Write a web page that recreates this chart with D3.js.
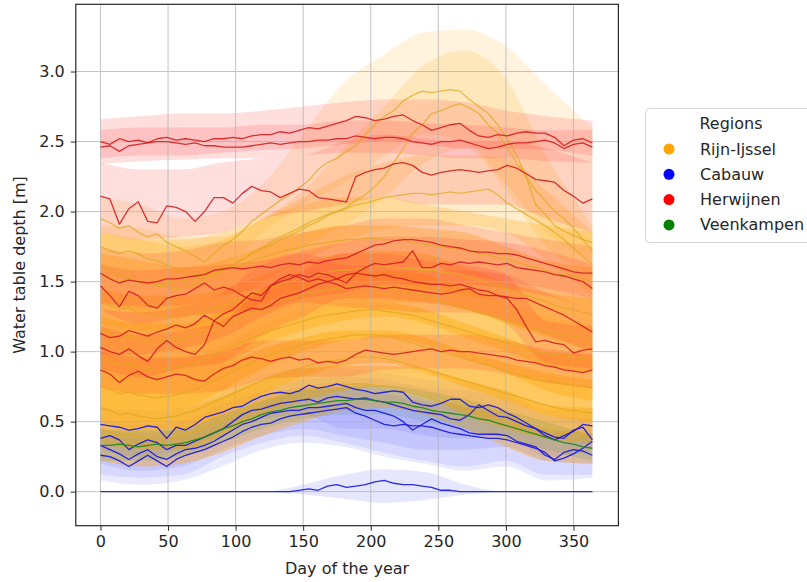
<!DOCTYPE html>
<html>
<head>
<meta charset="utf-8">
<script src="https://cdn.jsdelivr.net/npm/d3@7"></script>
<style>
  body { margin: 0; background: #fff; }
  text { font-family: "DejaVu Sans", sans-serif; fill: #262626; }
</style>
</head>
<body>
<svg id="chart"></svg>
<script>
const width = 807;
const height = 582;

// day grid of the lines (weekly) and of the bands (monthly)
const days = [0, 7, 14, 21, 28, 35, 42, 49, 56, 63, 70, 77, 84, 91, 98, 105, 112, 119, 126, 133, 140, 147, 154, 161, 168, 175, 182, 189, 196, 203, 210, 217, 224, 231, 238, 245, 252, 259, 266, 273, 280, 287, 294, 301, 308, 315, 322, 329, 336, 343, 350, 357, 364];
const bandDays = [0, 30, 60, 90, 120, 150, 180, 210, 240, 270, 300, 330, 364];

const xTicks = [0, 50, 100, 150, 200, 250, 300, 350];
const yTicks = [0, 0.5, 1, 1.5, 2, 2.5, 3];

const regions = ["Rijn-Ijssel", "Cabauw", "Herwijnen", "Veenkampen"];
const regionColors = ["orange", "blue", "red", "green"];

// Rijn-Ijssel
const rijn1 = [1.95, 1.92, 1.88, 1.90, 1.85, 1.82, 1.84, 1.78, 1.75, 1.72, 1.68, 1.64, 1.70, 1.76, 1.80, 1.86, 1.93, 1.98, 2.03, 2.08, 2.12, 2.17, 2.22, 2.30, 2.35, 2.38, 2.43, 2.47, 2.55, 2.62, 2.68, 2.72, 2.79, 2.83, 2.86, 2.85, 2.86, 2.87, 2.86, 2.80, 2.75, 2.70, 2.62, 2.52, 2.40, 2.25, 2.05, 1.98, 1.90, 1.86, 1.83, 1.80, 1.78];
const rijn1Lo = [1.75, 1.68, 1.55, 1.6, 1.85, 2.05, 2.2, 2.4, 2.55, 2.5, 2.2, 1.85, 1.65];
const rijn1Hi = [2.1, 2.05, 1.95, 2.0, 2.2, 2.55, 2.92, 3.12, 3.28, 3.3, 3.18, 2.9, 2.6];

const rijn2 = [1.75, 1.72, 1.70, 1.72, 1.70, 1.66, 1.65, 1.62, 1.60, 1.57, 1.55, 1.56, 1.58, 1.60, 1.62, 1.66, 1.70, 1.73, 1.76, 1.80, 1.83, 1.86, 1.90, 1.93, 1.97, 2.00, 2.03, 2.08, 2.12, 2.18, 2.25, 2.35, 2.45, 2.56, 2.62, 2.70, 2.72, 2.75, 2.77, 2.74, 2.70, 2.62, 2.56, 2.45, 2.35, 2.25, 2.15, 2.08, 2.00, 1.95, 1.88, 1.80, 1.72];
const rijn2Lo = [1.55, 1.5, 1.45, 1.45, 1.6, 1.75, 1.9, 2.1, 2.35, 2.45, 2.15, 1.75, 1.55];
const rijn2Hi = [1.9, 1.88, 1.82, 1.82, 1.95, 2.15, 2.45, 2.75, 3.05, 3.15, 2.95, 2.4, 1.9];

const rijn3 = [1.62, 1.58, 1.55, 1.52, 1.50, 1.49, 1.47, 1.46, 1.45, 1.46, 1.48, 1.52, 1.55, 1.58, 1.62, 1.66, 1.70, 1.74, 1.78, 1.82, 1.85, 1.88, 1.92, 1.95, 1.98, 2.00, 2.02, 2.05, 2.06, 2.08, 2.10, 2.11, 2.12, 2.13, 2.13, 2.12, 2.13, 2.14, 2.13, 2.14, 2.15, 2.16, 2.12, 2.06, 2.02, 1.98, 1.94, 1.90, 1.85, 1.80, 1.74, 1.68, 1.62];
const rijn3Lo = [1.35, 1.28, 1.25, 1.3, 1.5, 1.65, 1.78, 1.88, 1.9, 1.9, 1.85, 1.65, 1.4];
const rijn3Hi = [1.85, 1.8, 1.75, 1.8, 1.95, 2.1, 2.25, 2.35, 2.4, 2.4, 2.38, 2.15, 1.85];

const rijn4 = [1.35, 1.33, 1.30, 1.31, 1.28, 1.27, 1.26, 1.25, 1.24, 1.25, 1.27, 1.29, 1.31, 1.33, 1.35, 1.38, 1.41, 1.43, 1.46, 1.48, 1.50, 1.52, 1.54, 1.55, 1.57, 1.58, 1.58, 1.59, 1.60, 1.60, 1.61, 1.60, 1.60, 1.59, 1.58, 1.58, 1.57, 1.56, 1.55, 1.53, 1.51, 1.49, 1.47, 1.45, 1.43, 1.40, 1.38, 1.36, 1.33, 1.31, 1.30, 1.28, 1.27];
const rijn4Lo = [1.0, 0.95, 0.95, 1.05, 1.2, 1.3, 1.35, 1.35, 1.35, 1.3, 1.2, 1.1, 1.0];
const rijn4Hi = [1.7, 1.65, 1.6, 1.65, 1.75, 1.85, 1.9, 1.9, 1.88, 1.85, 1.75, 1.65, 1.6];

const rijn5 = [1.15, 1.13, 1.10, 1.11, 1.09, 1.08, 1.07, 1.08, 1.09, 1.10, 1.12, 1.14, 1.16, 1.19, 1.22, 1.25, 1.28, 1.31, 1.34, 1.36, 1.38, 1.40, 1.42, 1.43, 1.44, 1.45, 1.46, 1.46, 1.47, 1.47, 1.46, 1.45, 1.44, 1.42, 1.40, 1.38, 1.36, 1.34, 1.32, 1.30, 1.28, 1.26, 1.24, 1.22, 1.20, 1.18, 1.16, 1.14, 1.13, 1.12, 1.11, 1.10, 1.09];
const rijn5Lo = [0.85, 0.8, 0.8, 0.9, 1.05, 1.15, 1.22, 1.25, 1.2, 1.1, 1.0, 0.9, 0.85];
const rijn5Hi = [1.45, 1.4, 1.4, 1.45, 1.55, 1.65, 1.7, 1.72, 1.7, 1.6, 1.5, 1.42, 1.38];

const rijn6 = [0.95, 0.93, 0.90, 0.91, 0.89, 0.88, 0.87, 0.88, 0.89, 0.90, 0.92, 0.95, 0.98, 1.01, 1.04, 1.07, 1.10, 1.12, 1.15, 1.17, 1.19, 1.21, 1.23, 1.25, 1.26, 1.27, 1.28, 1.29, 1.30, 1.30, 1.29, 1.28, 1.27, 1.26, 1.24, 1.22, 1.20, 1.18, 1.16, 1.14, 1.12, 1.10, 1.08, 1.06, 1.04, 1.02, 1.00, 0.99, 0.98, 0.97, 0.96, 0.95, 0.94];
const rijn6Lo = [0.65, 0.6, 0.6, 0.72, 0.88, 1.0, 1.08, 1.1, 1.05, 0.95, 0.85, 0.72, 0.65];
const rijn6Hi = [1.25, 1.2, 1.2, 1.3, 1.45, 1.5, 1.55, 1.58, 1.55, 1.45, 1.35, 1.25, 1.2];

const rijn7 = [0.75, 0.73, 0.70, 0.71, 0.69, 0.68, 0.67, 0.68, 0.69, 0.71, 0.73, 0.76, 0.79, 0.82, 0.86, 0.89, 0.92, 0.95, 0.98, 1.00, 1.02, 1.04, 1.06, 1.08, 1.09, 1.10, 1.11, 1.12, 1.12, 1.12, 1.11, 1.10, 1.08, 1.06, 1.04, 1.02, 1.00, 0.98, 0.96, 0.94, 0.92, 0.90, 0.88, 0.86, 0.84, 0.82, 0.80, 0.79, 0.78, 0.77, 0.76, 0.75, 0.74];
const rijn7Lo = [0.5, 0.45, 0.45, 0.55, 0.7, 0.82, 0.9, 0.92, 0.85, 0.75, 0.65, 0.55, 0.5];
const rijn7Hi = [1.0, 0.95, 0.95, 1.05, 1.2, 1.3, 1.35, 1.35, 1.3, 1.2, 1.1, 1.0, 0.98];

const rijn8 = [0.60, 0.58, 0.55, 0.56, 0.54, 0.53, 0.52, 0.53, 0.54, 0.56, 0.58, 0.61, 0.64, 0.67, 0.70, 0.73, 0.76, 0.79, 0.82, 0.84, 0.86, 0.88, 0.90, 0.92, 0.93, 0.94, 0.95, 0.96, 0.96, 0.96, 0.95, 0.94, 0.92, 0.90, 0.88, 0.86, 0.84, 0.82, 0.80, 0.78, 0.76, 0.74, 0.72, 0.70, 0.68, 0.66, 0.64, 0.62, 0.60, 0.59, 0.58, 0.57, 0.56];
const rijn8Lo = [0.35, 0.3, 0.3, 0.4, 0.55, 0.65, 0.72, 0.75, 0.68, 0.55, 0.45, 0.38, 0.35];
const rijn8Hi = [0.85, 0.8, 0.8, 0.9, 1.02, 1.1, 1.15, 1.15, 1.1, 1.0, 0.92, 0.85, 0.8];

const rijn9 = [0.45, 0.43, 0.40, 0.41, 0.39, 0.38, 0.37, 0.38, 0.39, 0.41, 0.43, 0.46, 0.49, 0.52, 0.55, 0.58, 0.61, 0.64, 0.66, 0.68, 0.70, 0.72, 0.73, 0.74, 0.75, 0.76, 0.76, 0.77, 0.77, 0.76, 0.75, 0.74, 0.72, 0.70, 0.68, 0.66, 0.64, 0.62, 0.60, 0.58, 0.56, 0.54, 0.52, 0.50, 0.48, 0.46, 0.45, 0.44, 0.43, 0.42, 0.42, 0.41, 0.41];
const rijn9Lo = [0.22, 0.18, 0.2, 0.28, 0.4, 0.5, 0.58, 0.6, 0.55, 0.45, 0.32, 0.22, 0.2];
const rijn9Hi = [0.65, 0.6, 0.6, 0.68, 0.8, 0.88, 0.9, 0.9, 0.88, 0.8, 0.72, 0.62, 0.6];

const rijn10 = [1.55, 1.53, 1.50, 1.52, 1.50, 1.49, 1.48, 1.49, 1.50, 1.51, 1.52, 1.54, 1.56, 1.58, 1.60, 1.62, 1.65, 1.67, 1.69, 1.71, 1.73, 1.74, 1.76, 1.77, 1.78, 1.79, 1.80, 1.80, 1.81, 1.81, 1.80, 1.80, 1.79, 1.78, 1.77, 1.76, 1.75, 1.74, 1.73, 1.72, 1.70, 1.69, 1.67, 1.66, 1.64, 1.62, 1.60, 1.58, 1.56, 1.55, 1.54, 1.52, 1.50];
const rijn10Lo = [1.2, 1.15, 1.15, 1.2, 1.35, 1.45, 1.5, 1.5, 1.45, 1.4, 1.35, 1.25, 1.2];
const rijn10Hi = [1.85, 1.8, 1.8, 1.85, 1.95, 2.05, 2.1, 2.1, 2.05, 2.0, 1.95, 1.9, 1.85];

// Cabauw
const cabauw0 = [0, 0, 0, 0, 0, 0, 0, 0, 0, 0, 0, 0, 0, 0, 0, 0, 0, 0, 0, 0, 0, 0.01, 0.02, 0.01, 0.04, 0.05, 0.03, 0.04, 0.05, 0.07, 0.08, 0.06, 0.05, 0.05, 0.04, 0.03, 0.01, 0.01, 0, 0, 0, 0, 0, 0, 0, 0, 0, 0, 0, 0, 0, 0, 0];
const cabauw0Lo = [0, 0, 0, 0, 0, -0.02, -0.05, -0.08, -0.06, -0.02, 0, 0, 0];
const cabauw0Hi = [0, 0, 0, 0, 0, 0.05, 0.12, 0.16, 0.14, 0.05, 0, 0, 0];

const cabauw1 = [0.48, 0.47, 0.46, 0.44, 0.45, 0.47, 0.46, 0.38, 0.46, 0.44, 0.48, 0.53, 0.55, 0.57, 0.60, 0.61, 0.65, 0.68, 0.70, 0.71, 0.70, 0.72, 0.76, 0.74, 0.75, 0.77, 0.75, 0.73, 0.72, 0.70, 0.71, 0.72, 0.71, 0.64, 0.62, 0.61, 0.63, 0.66, 0.66, 0.61, 0.60, 0.62, 0.60, 0.56, 0.53, 0.49, 0.45, 0.40, 0.37, 0.40, 0.43, 0.48, 0.47];
const cabauw1Lo = [0.3, 0.25, 0.3, 0.42, 0.52, 0.55, 0.45, 0.45, 0.4, 0.38, 0.4, 0.25, 0.3];
const cabauw1Hi = [0.6, 0.58, 0.6, 0.7, 0.82, 0.88, 0.88, 0.85, 0.8, 0.78, 0.72, 0.58, 0.6];

const cabauw2 = [0.38, 0.40, 0.37, 0.30, 0.34, 0.37, 0.35, 0.30, 0.33, 0.33, 0.36, 0.39, 0.42, 0.45, 0.50, 0.55, 0.58, 0.59, 0.61, 0.63, 0.64, 0.65, 0.66, 0.64, 0.67, 0.68, 0.67, 0.66, 0.67, 0.65, 0.64, 0.62, 0.60, 0.58, 0.57, 0.56, 0.55, 0.52, 0.51, 0.55, 0.62, 0.58, 0.54, 0.53, 0.50, 0.47, 0.45, 0.42, 0.39, 0.38, 0.44, 0.46, 0.37];
const cabauw2Lo = [0.2, 0.15, 0.18, 0.3, 0.4, 0.45, 0.4, 0.35, 0.3, 0.3, 0.32, 0.22, 0.2];
const cabauw2Hi = [0.52, 0.48, 0.5, 0.62, 0.72, 0.8, 0.82, 0.8, 0.74, 0.72, 0.66, 0.55, 0.52];

const cabauw3 = [0.33, 0.30, 0.27, 0.23, 0.27, 0.30, 0.25, 0.23, 0.27, 0.30, 0.31, 0.33, 0.36, 0.40, 0.44, 0.48, 0.50, 0.53, 0.56, 0.57, 0.58, 0.58, 0.60, 0.60, 0.61, 0.62, 0.63, 0.60, 0.58, 0.58, 0.56, 0.54, 0.50, 0.44, 0.48, 0.52, 0.49, 0.47, 0.45, 0.42, 0.41, 0.41, 0.41, 0.40, 0.36, 0.34, 0.32, 0.26, 0.23, 0.28, 0.30, 0.29, 0.26];
const cabauw3Lo = [0.12, 0.1, 0.12, 0.25, 0.35, 0.4, 0.35, 0.28, 0.22, 0.18, 0.22, 0.12, 0.12];
const cabauw3Hi = [0.45, 0.42, 0.45, 0.55, 0.68, 0.75, 0.78, 0.74, 0.66, 0.62, 0.56, 0.45, 0.42];

const cabauw4 = [0.26, 0.25, 0.22, 0.18, 0.22, 0.26, 0.22, 0.18, 0.23, 0.26, 0.28, 0.30, 0.33, 0.36, 0.39, 0.43, 0.46, 0.48, 0.49, 0.52, 0.54, 0.55, 0.56, 0.57, 0.58, 0.59, 0.60, 0.56, 0.54, 0.51, 0.48, 0.47, 0.48, 0.47, 0.47, 0.46, 0.44, 0.42, 0.41, 0.40, 0.39, 0.38, 0.38, 0.37, 0.35, 0.33, 0.31, 0.28, 0.22, 0.24, 0.27, 0.31, 0.36];
const cabauw4Lo = [0.08, 0.05, 0.08, 0.18, 0.3, 0.35, 0.32, 0.25, 0.2, 0.15, 0.18, 0.08, 0.1];
const cabauw4Hi = [0.4, 0.38, 0.4, 0.5, 0.62, 0.72, 0.74, 0.7, 0.64, 0.6, 0.54, 0.42, 0.48];

// Herwijnen
const herw1 = [2.50, 2.48, 2.52, 2.50, 2.51, 2.49, 2.52, 2.53, 2.51, 2.52, 2.51, 2.50, 2.52, 2.52, 2.53, 2.52, 2.54, 2.55, 2.55, 2.57, 2.56, 2.58, 2.60, 2.59, 2.61, 2.63, 2.65, 2.68, 2.67, 2.65, 2.66, 2.68, 2.69, 2.65, 2.62, 2.58, 2.60, 2.62, 2.63, 2.58, 2.54, 2.53, 2.55, 2.54, 2.56, 2.57, 2.56, 2.56, 2.53, 2.47, 2.51, 2.52, 2.49];
const herw1Lo = [2.38, 2.4, 2.4, 2.42, 2.44, 2.45, 2.48, 2.5, 2.48, 2.45, 2.45, 2.44, 2.4];
const herw1Hi = [2.66, 2.68, 2.7, 2.7, 2.72, 2.75, 2.78, 2.8, 2.8, 2.78, 2.72, 2.68, 2.65];

const herw2 = [2.46, 2.47, 2.43, 2.47, 2.48, 2.49, 2.50, 2.50, 2.49, 2.48, 2.49, 2.47, 2.47, 2.46, 2.46, 2.46, 2.47, 2.48, 2.49, 2.48, 2.49, 2.50, 2.50, 2.51, 2.51, 2.52, 2.52, 2.54, 2.53, 2.52, 2.53, 2.53, 2.52, 2.50, 2.49, 2.48, 2.50, 2.50, 2.51, 2.49, 2.47, 2.45, 2.46, 2.48, 2.49, 2.49, 2.50, 2.51, 2.49, 2.45, 2.48, 2.49, 2.46];
const herw2Lo = [2.34, 2.36, 2.37, 2.38, 2.38, 2.4, 2.42, 2.42, 2.4, 2.38, 2.38, 2.36, 2.35];
const herw2Hi = [2.58, 2.6, 2.6, 2.6, 2.62, 2.62, 2.65, 2.65, 2.63, 2.62, 2.6, 2.58, 2.58];

const herw3 = [2.11, 2.09, 1.91, 2.02, 2.07, 1.93, 1.92, 2.04, 2.03, 2.00, 1.93, 2.00, 2.10, 2.10, 2.06, 2.13, 2.18, 2.15, 2.14, 2.10, 2.13, 2.16, 2.15, 2.10, 2.09, 2.08, 2.07, 2.25, 2.28, 2.30, 2.31, 2.34, 2.35, 2.33, 2.28, 2.26, 2.28, 2.29, 2.30, 2.29, 2.28, 2.29, 2.30, 2.33, 2.31, 2.27, 2.23, 2.22, 2.21, 2.15, 2.11, 2.06, 2.09];
const herw3Lo = [1.85, 1.8, 1.82, 1.85, 1.95, 2.0, 2.05, 2.1, 2.05, 2.05, 2.05, 1.95, 1.85];
const herw3Hi = [2.35, 2.3, 2.3, 2.35, 2.38, 2.4, 2.5, 2.55, 2.52, 2.5, 2.5, 2.45, 2.35];

const herw4 = [1.56, 1.52, 1.49, 1.51, 1.50, 1.49, 1.50, 1.52, 1.52, 1.53, 1.54, 1.55, 1.58, 1.59, 1.60, 1.59, 1.60, 1.61, 1.60, 1.62, 1.63, 1.62, 1.64, 1.63, 1.65, 1.66, 1.67, 1.70, 1.73, 1.76, 1.77, 1.79, 1.80, 1.80, 1.79, 1.78, 1.76, 1.75, 1.74, 1.72, 1.71, 1.71, 1.70, 1.70, 1.69, 1.67, 1.65, 1.63, 1.61, 1.59, 1.57, 1.56, 1.56];
const herw4Lo = [1.35, 1.32, 1.33, 1.4, 1.45, 1.5, 1.55, 1.6, 1.6, 1.55, 1.5, 1.45, 1.38];
const herw4Hi = [1.75, 1.7, 1.72, 1.78, 1.8, 1.85, 1.9, 1.95, 1.95, 1.9, 1.85, 1.8, 1.75];

const herw5 = [1.47, 1.40, 1.32, 1.43, 1.40, 1.33, 1.31, 1.38, 1.40, 1.41, 1.45, 1.49, 1.44, 1.46, 1.44, 1.40, 1.37, 1.36, 1.47, 1.50, 1.52, 1.55, 1.53, 1.56, 1.55, 1.52, 1.49, 1.56, 1.60, 1.63, 1.62, 1.63, 1.64, 1.72, 1.60, 1.60, 1.63, 1.62, 1.64, 1.63, 1.64, 1.63, 1.62, 1.63, 1.60, 1.59, 1.58, 1.57, 1.55, 1.54, 1.52, 1.50, 1.45];
const herw5Lo = [1.3, 1.2, 1.25, 1.28, 1.3, 1.38, 1.42, 1.48, 1.48, 1.48, 1.45, 1.4, 1.3];
const herw5Hi = [1.62, 1.58, 1.6, 1.62, 1.65, 1.72, 1.78, 1.82, 1.82, 1.8, 1.78, 1.72, 1.62];

const herw6 = [1.13, 1.10, 1.11, 1.15, 1.13, 1.11, 1.14, 1.16, 1.19, 1.17, 1.20, 1.26, 1.22, 1.27, 1.30, 1.36, 1.42, 1.40, 1.47, 1.52, 1.55, 1.53, 1.50, 1.52, 1.50, 1.48, 1.45, 1.46, 1.47, 1.46, 1.45, 1.46, 1.45, 1.44, 1.43, 1.42, 1.41, 1.42, 1.44, 1.45, 1.41, 1.40, 1.40, 1.39, 1.38, 1.38, 1.35, 1.32, 1.29, 1.26, 1.22, 1.18, 1.14];
const herw6Lo = [0.98, 0.98, 1.02, 1.1, 1.25, 1.35, 1.32, 1.3, 1.28, 1.28, 1.22, 1.12, 1.0];
const herw6Hi = [1.3, 1.28, 1.32, 1.42, 1.62, 1.7, 1.62, 1.6, 1.58, 1.58, 1.55, 1.42, 1.3];

const herw7 = [1.03, 1.00, 0.98, 1.02, 0.97, 0.93, 1.02, 1.08, 1.03, 1.00, 0.98, 1.05, 1.22, 1.18, 1.25, 1.28, 1.31, 1.30, 1.33, 1.38, 1.40, 1.42, 1.45, 1.48, 1.50, 1.52, 1.55, 1.56, 1.55, 1.54, 1.55, 1.53, 1.52, 1.50, 1.49, 1.48, 1.48, 1.47, 1.48, 1.46, 1.44, 1.43, 1.40, 1.38, 1.30, 1.18, 1.07, 1.08, 1.06, 1.05, 0.99, 1.01, 1.02];
const herw7Lo = [0.88, 0.82, 0.88, 0.92, 1.12, 1.25, 1.38, 1.38, 1.35, 1.3, 1.2, 0.92, 0.88];
const herw7Hi = [1.18, 1.12, 1.15, 1.22, 1.45, 1.58, 1.7, 1.7, 1.65, 1.62, 1.55, 1.22, 1.18];

const herw8 = [0.87, 0.84, 0.78, 0.83, 0.86, 0.82, 0.80, 0.82, 0.84, 0.83, 0.80, 0.79, 0.84, 0.88, 0.90, 0.94, 0.96, 0.95, 0.93, 0.95, 0.96, 0.94, 0.95, 0.92, 0.93, 0.92, 0.94, 0.98, 1.01, 1.00, 0.99, 0.98, 0.99, 1.00, 1.01, 1.02, 1.00, 1.01, 1.00, 1.00, 0.99, 0.98, 0.97, 0.96, 0.94, 0.93, 0.92, 0.90, 0.89, 0.87, 0.86, 0.85, 0.87];
const herw8Lo = [0.75, 0.7, 0.7, 0.72, 0.8, 0.82, 0.82, 0.87, 0.88, 0.88, 0.84, 0.78, 0.74];
const herw8Hi = [1.0, 0.96, 0.96, 1.0, 1.08, 1.08, 1.08, 1.12, 1.12, 1.12, 1.08, 1.02, 0.99];

// Veenkampen
const veen1 = [0.33, 0.33, 0.34, 0.33, 0.32, 0.33, 0.34, 0.33, 0.34, 0.35, 0.37, 0.39, 0.42, 0.45, 0.47, 0.50, 0.52, 0.55, 0.57, 0.58, 0.60, 0.61, 0.62, 0.63, 0.64, 0.65, 0.65, 0.66, 0.66, 0.65, 0.64, 0.64, 0.63, 0.61, 0.60, 0.58, 0.57, 0.56, 0.55, 0.54, 0.52, 0.51, 0.49, 0.47, 0.45, 0.43, 0.41, 0.39, 0.37, 0.35, 0.34, 0.32, 0.31];
const veen1Lo = [0.22, 0.22, 0.25, 0.35, 0.45, 0.52, 0.55, 0.55, 0.5, 0.44, 0.38, 0.3, 0.22];
const veen1Hi = [0.44, 0.44, 0.45, 0.55, 0.65, 0.72, 0.75, 0.76, 0.72, 0.66, 0.58, 0.5, 0.4];

// bands are drawn in this order (Cabauw first, so the orange mass lies over it)
const stations = [
  { region: 1, line: cabauw0, lo: cabauw0Lo, hi: cabauw0Hi },
  { region: 1, line: cabauw1, lo: cabauw1Lo, hi: cabauw1Hi },
  { region: 1, line: cabauw2, lo: cabauw2Lo, hi: cabauw2Hi },
  { region: 1, line: cabauw3, lo: cabauw3Lo, hi: cabauw3Hi },
  { region: 1, line: cabauw4, lo: cabauw4Lo, hi: cabauw4Hi },
  { region: 0, line: rijn1, lo: rijn1Lo, hi: rijn1Hi },
  { region: 0, line: rijn2, lo: rijn2Lo, hi: rijn2Hi },
  { region: 0, line: rijn3, lo: rijn3Lo, hi: rijn3Hi },
  { region: 0, line: rijn10, lo: rijn10Lo, hi: rijn10Hi },
  { region: 0, line: rijn4, lo: rijn4Lo, hi: rijn4Hi },
  { region: 0, line: rijn5, lo: rijn5Lo, hi: rijn5Hi },
  { region: 0, line: rijn6, lo: rijn6Lo, hi: rijn6Hi },
  { region: 0, line: rijn7, lo: rijn7Lo, hi: rijn7Hi },
  { region: 0, line: rijn8, lo: rijn8Lo, hi: rijn8Hi },
  { region: 0, line: rijn9, lo: rijn9Lo, hi: rijn9Hi },
  { region: 2, line: herw1, lo: herw1Lo, hi: herw1Hi },
  { region: 2, line: herw2, lo: herw2Lo, hi: herw2Hi },
  { region: 2, line: herw3, lo: herw3Lo, hi: herw3Hi },
  { region: 2, line: herw4, lo: herw4Lo, hi: herw4Hi },
  { region: 2, line: herw5, lo: herw5Lo, hi: herw5Hi },
  { region: 2, line: herw6, lo: herw6Lo, hi: herw6Hi },
  { region: 2, line: herw7, lo: herw7Lo, hi: herw7Hi },
  { region: 2, line: herw8, lo: herw8Lo, hi: herw8Hi },
  { region: 3, line: veen1, lo: veen1Lo, hi: veen1Hi }
];

// band opacity per station (same order as stations)
const bandAlpha = [0.12, 0.1, 0.1, 0.1, 0.1,
  0.13, 0.15, 0.2, 0.24, 0.3, 0.32, 0.36, 0.38, 0.38, 0.36,
  0.15, 0.15, 0.15, 0.15, 0.15, 0.15, 0.15, 0.15,
  0.1];

const bandFill = ["#ffa500", "#3030ff", "#ff2020", "#008000"];
const lineColor = ["#e0a820", "#1515e0", "#d42020", "#1a8a1a"];
const lineOpacity = [0.75, 0.9, 0.9, 0.9];
const lineRank = [0, 2, 1, 3]; // orange, then red, then blue, then green on top

const plot = { left: 75.8, right: 618.4, top: 4.3, bottom: 525.7 };
const fontSize = 16;

const svg = d3
  .select("#chart")
  .attr("width", width)
  .attr("height", height);

const x = d3.scaleLinear().domain([-18.25, 383.25]).range([plot.left, plot.right]);
const y = d3.scaleLinear().domain([-0.243, 3.48]).range([plot.bottom, plot.top]);

svg
  .append("clipPath")
  .attr("id", "clip")
  .append("rect")
  .attr("x", plot.left)
  .attr("y", plot.top)
  .attr("width", plot.right - plot.left)
  .attr("height", plot.bottom - plot.top);

const inner = svg.append("g").attr("clip-path", "url(#clip)");

const band = s => d3
  .area()
  .curve(d3.curveMonotoneX)
  .x(i => x(bandDays[i]))
  .y0(i => y(s.lo[i]))
  .y1(i => y(s.hi[i]))(d3.range(bandDays.length));

// bands first (under grid), then lines
inner
  .selectAll(".band")
  .data(stations)
  .enter()
  .append("path")
  .attr("class", "band")
  .attr("d", band)
  .attr("fill", s => bandFill[s.region])
  .attr("fill-opacity", (s, i) => bandAlpha[i]);

const grid = inner.append("g").attr("stroke", "#b0b0b0").attr("stroke-width", 1).attr("opacity", 0.75);
grid
  .selectAll(".gx")
  .data(xTicks)
  .enter()
  .append("line")
  .attr("x1", d => x(d))
  .attr("x2", d => x(d))
  .attr("y1", plot.top)
  .attr("y2", plot.bottom);
grid
  .selectAll(".gy")
  .data(yTicks)
  .enter()
  .append("line")
  .attr("x1", plot.left)
  .attr("x2", plot.right)
  .attr("y1", d => y(d))
  .attr("y2", d => y(d));

const line = d3
  .line()
  .x((d, i) => x(days[i]))
  .y(d => y(d));

inner
  .selectAll(".series")
  .data(d3.sort(stations, s => lineRank[s.region]))
  .enter()
  .append("path")
  .attr("class", "series")
  .attr("d", s => line(s.line))
  .attr("fill", "none")
  .attr("stroke", s => lineColor[s.region])
  .attr("stroke-opacity", s => lineOpacity[s.region])
  .attr("stroke-width", 1.3)
  .attr("stroke-linejoin", "round");

// axes
const xAxis = d3.axisBottom(x).tickValues(xTicks).tickSize(5).tickPadding(5).tickFormat(d3.format("d"));
const yAxis = d3.axisLeft(y).tickValues(yTicks).tickSize(5).tickPadding(6).tickFormat(d3.format(".1f"));

svg
  .append("g")
  .attr("transform", `translate(0, ${plot.bottom})`)
  .call(xAxis)
  .call(g => g.select(".domain").remove());

svg
  .append("g")
  .attr("transform", `translate(${plot.left}, 0)`)
  .call(yAxis)
  .call(g => g.select(".domain").remove());

svg.selectAll(".tick text").attr("font-size", fontSize).attr("font-family", "DejaVu Sans").attr("fill", "#262626");
svg.selectAll(".tick line").attr("stroke", "#262626");

svg
  .append("rect")
  .attr("x", plot.left)
  .attr("y", plot.top)
  .attr("width", plot.right - plot.left)
  .attr("height", plot.bottom - plot.top)
  .attr("fill", "none")
  .attr("stroke", "#262626")
  .attr("stroke-width", 1.2);

svg
  .append("text")
  .attr("x", (plot.left + plot.right) / 2)
  .attr("y", 574)
  .attr("text-anchor", "middle")
  .attr("font-size", fontSize)
  .text("Day of the year");

svg
  .append("text")
  .attr("x", -(plot.top + plot.bottom) / 2)
  .attr("y", 25)
  .attr("text-anchor", "middle")
  .attr("transform", "rotate(-90)")
  .attr("font-size", fontSize)
  .text("Water table depth [m]");

// legend
const legend = svg.append("g").attr("id", "legend");

legend
  .append("rect")
  .attr("x", 645.5)
  .attr("y", 108.5)
  .attr("width", 190)
  .attr("height", 134)
  .attr("rx", 4)
  .attr("fill", "#fff")
  .attr("fill-opacity", 0.8)
  .attr("stroke", "#d6d6d6");

legend
  .append("text")
  .attr("x", 731)
  .attr("y", 129)
  .attr("text-anchor", "middle")
  .attr("font-size", fontSize)
  .text("Regions");

const entry = legend
  .selectAll(".entry")
  .data(regions)
  .enter()
  .append("g")
  .attr("class", "entry")
  .attr("transform", (d, i) => `translate(0, ${149 + i * 25.3})`);

entry
  .append("circle")
  .attr("cx", 669)
  .attr("cy", 0)
  .attr("r", 5.5)
  .attr("fill", (d, i) => regionColors[i]);

entry
  .append("text")
  .attr("x", 700)
  .attr("y", 5.5)
  .attr("font-size", fontSize)
  .text(d => d);
</script>
</body>
</html>
